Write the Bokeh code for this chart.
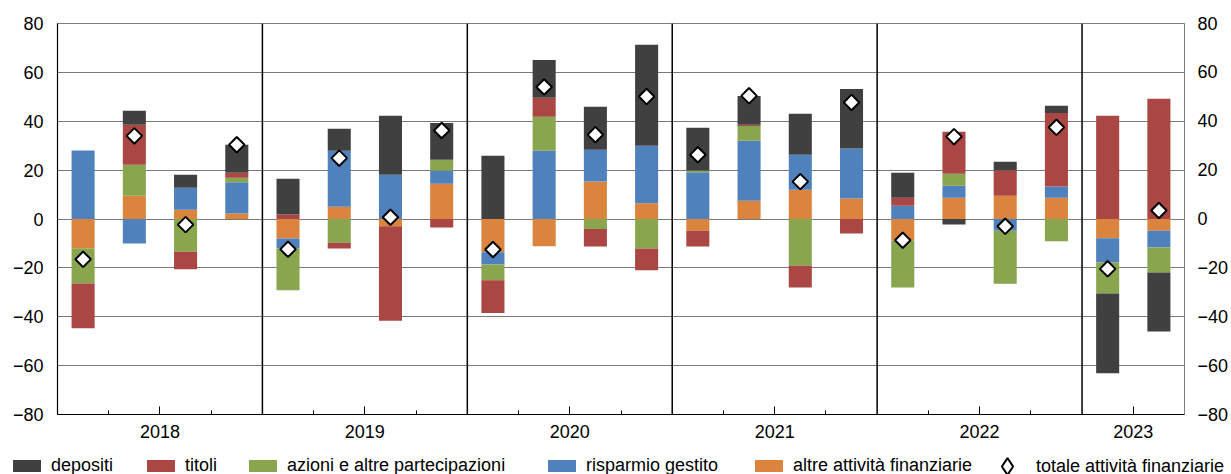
import math
from bokeh.plotting import figure
from bokeh.models import (ColumnDataSource, FixedTicker, LinearAxis, Range1d,
                          Span, Legend, LegendItem)
from bokeh.embed import file_html
from bokeh.resources import INLINE

# ---- data (quarterly, 2018Q1 .. 2023Q2) ----
years = ["2018", "2019", "2020", "2021", "2022", "2023"]
quarters_per_year = [4, 4, 4, 4, 4, 2]

depositi = [0.0, 5.7, 5.3, 11.5,
            14.7, 9.0, 24.1, 15.1,
            25.9, 15.5, 17.6, 41.3,
            17.5, 11.7, 16.8, 24.4,
            10.2, -2.3, 3.5, 2.9,
            -32.6, -24.1]
titoli = [-18.3, 16.4, -7.2, 2.0,
          1.8, -2.4, -38.6, -3.5,
          -13.4, 7.8, -7.2, -8.9,
          -6.5, 0.5, -8.9, -5.9,
          3.3, 17.2, 10.4, 30.1,
          42.2, 49.2]
azioni = [-14.4, 12.7, -13.4, 1.9,
          -17.2, -9.7, 0.0, 4.5,
          -6.5, 13.9, -4.1, -12.1,
          0.7, 6.1, -19.1, 0.0,
          -19.1, 4.9, -21.7, -9.1,
          -12.7, -10.2]
risparmio = [28.0, -10.0, 9.0, 12.7,
             -4.0, 22.9, 18.1, 5.3,
             -5.0, 27.9, 13.0, 23.6,
             19.1, 24.5, 14.3, 20.4,
             5.4, 4.9, -4.8, 4.6,
             -9.9, -6.9]
altre = [-12.0, 9.5, 3.8, 2.3,
         -8.0, 5.0, -3.0, 14.4,
         -13.6, -11.2, 15.3, 6.4,
         -4.8, 7.5, 12.0, 8.4,
         -8.9, 8.7, 9.5, 8.7,
         -7.9, -4.8]
totale = [-16.5, 34.0, -2.3, 30.4,
          -12.4, 24.9, 0.7, 36.2,
          -12.5, 54.0, 34.5, 50.1,
          26.3, 50.4, 15.3, 47.7,
          -8.7, 33.7, -3.0, 37.5,
          -20.4, 3.5]

y_ticks = [-80, -60, -40, -20, 0, 20, 40, 60, 80]

FONT = "Liberation Sans"
FS = "18px"

n = len(depositi)
xs = [i + 0.5 for i in range(n)]

p = figure(width=1231, height=448, x_range=Range1d(0, n), y_range=Range1d(-80, 80),
           output_backend="svg", toolbar_location=None,
           min_border_left=57, min_border_right=45, min_border_top=23, min_border_bottom=34)
p.background_fill_color = "white"
p.border_fill_color = "white"
p.outline_line_color = "#7f7f7f"
p.outline_line_width = 1

# ---- axes ----
def fmt(v, lead=""):
    return ("\u2212" + str(abs(v))) if v < 0 else lead + str(v)

ly = p.yaxis[0]
ly.ticker = FixedTicker(ticks=y_ticks)
ly.major_label_overrides = {v: fmt(v) for v in y_ticks}
ly.major_tick_out = 0
ly.major_tick_in = 0
ly.minor_tick_out = 0
ly.minor_tick_in = 0
ly.major_label_standoff = 14
ly.axis_line_color = "black"
ly.axis_line_width = 1.2
ly.major_label_text_font = FONT
ly.major_label_text_font_size = FS
ly.major_label_text_color = "black"

ry = LinearAxis(ticker=FixedTicker(ticks=y_ticks))
ry.major_label_overrides = {v: fmt(v, " ") for v in y_ticks}
ry.major_tick_out = 0
ry.major_tick_in = 0
ry.minor_tick_out = 0
ry.minor_tick_in = 0
ry.major_label_standoff = 13
ry.axis_line_color = "#7f7f7f"
ry.major_label_text_font = FONT
ry.major_label_text_font_size = FS
ry.major_label_text_color = "black"
p.add_layout(ry, "right")

# x axis: year labels at year centres, quarter ticks inside
bounds = [0]
for q in quarters_per_year:
    bounds.append(bounds[-1] + q)
centres = [(bounds[i] + bounds[i + 1]) / 2 for i in range(len(years))]
minor = [k for k in range(1, n) if k not in bounds and k not in centres]

bx = p.xaxis[0]
bx.ticker = FixedTicker(ticks=centres, minor_ticks=minor)
bx.major_label_overrides = {c: y for c, y in zip(centres, years)}
bx.major_tick_in = 8
bx.major_tick_out = 0
bx.minor_tick_in = 4
bx.minor_tick_out = 0
bx.major_tick_line_color = "black"
bx.minor_tick_line_color = "black"
bx.major_label_standoff = 10
bx.axis_line_color = "black"
bx.axis_line_width = 1.2
bx.major_label_text_font = FONT
bx.major_label_text_font_size = FS
bx.major_label_text_color = "black"

p.xgrid.visible = False
p.ygrid.ticker = FixedTicker(ticks=[t for t in y_ticks if -80 < t < 80])
p.ygrid.grid_line_color = "#7a7a7a"
p.ygrid.grid_line_width = 1

for b in bounds[1:-1]:
    p.add_layout(Span(location=b, dimension="height", line_color="black", line_width=1.5))

# ---- stacked bars ----
series = [
    ("altre attività finanziarie", altre, "#DB843D"),
    ("risparmio gestito", risparmio, "#4F81BD"),
    ("azioni e altre partecipazioni", azioni, "#89A54E"),
    ("titoli", titoli, "#AA4643"),
    ("depositi", depositi, "#404040"),
]
colors = {name: c for name, _, c in series}
pos_base = [0.0] * n
neg_base = [0.0] * n
for name, vals, color in series:
    bottoms, tops = [], []
    for i, v in enumerate(vals):
        if v >= 0:
            b = pos_base[i]
            t = b + v
            pos_base[i] = t
        else:
            t = neg_base[i]
            b = t + v
            neg_base[i] = b
        bottoms.append(b)
        tops.append(t)
    src = ColumnDataSource(dict(x=xs, bottom=bottoms, top=tops))
    p.vbar(x="x", bottom="bottom", top="top", width=0.45, source=src,
           fill_color=color, line_color=None)

tot_src = ColumnDataSource(dict(x=xs, y=totale))
p.scatter(x="x", y="y", source=tot_src, marker="square", size=11, angle=math.pi / 4,
          fill_color="white", line_color="black", line_width=2)

# ---- legend strip (separate root so nothing is clipped or re-aligned) ----
leg = figure(width=1231, height=26, x_range=Range1d(0, 1231), y_range=Range1d(0, 26),
             output_backend="svg", toolbar_location=None,
             x_axis_type=None, y_axis_type=None, min_border=0)
leg.outline_line_color = None
leg.xgrid.visible = False
leg.ygrid.visible = False
leg.background_fill_alpha = 0
leg.border_fill_alpha = 0

nan = float("nan")
dummy = {}
for name, c in colors.items():
    dummy[name] = leg.vbar(x=[nan], top=[nan], width=1, fill_color=c, line_color=None)
dummy["totale attività finanziarie"] = leg.scatter(
    x=[nan], y=[nan], marker="diamond", size=10,
    fill_color="white", line_color="black", line_width=2)

# label, x, y, glyph width, glyph height, standoff, min label height
legend_spec = [
    ("depositi", 9, -2, 35, 15, 7, 15),
    ("titoli", 143, -2, 35, 15, 7, 15),
    ("azioni e altre partecipazioni", 245, -2, 35, 15, 7, 15),
    ("risparmio gestito", 544, -2, 35, 15, 7, 15),
    ("altre attività finanziarie", 751, -2, 35, 15, 7, 15),
    ("totale attività finanziarie", 986, -13, 42, 42, 8, 42),
]
for label, lx, lyy, gw, gh, so, lh in legend_spec:
    lg = Legend(items=[LegendItem(label=label, renderers=[dummy[label]])],
                location=(lx, lyy), orientation="horizontal",
                glyph_width=gw, glyph_height=gh, label_standoff=so,
                padding=0, margin=0, spacing=0,
                border_line_color=None, background_fill_alpha=0,
                label_text_font=FONT, label_text_font_size=FS,
                label_text_color="black", label_height=lh)
    leg.add_layout(lg, "center")

open("out.html", "w").write(file_html([p, leg], INLINE))
